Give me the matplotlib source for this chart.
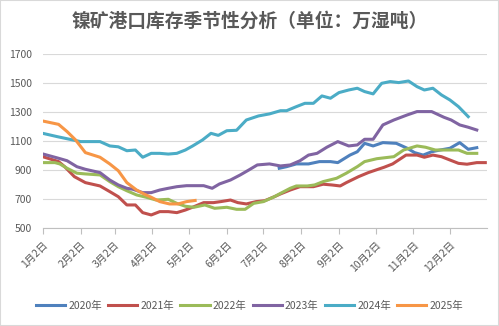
import matplotlib.pyplot as plt
import pandas as pd
from matplotlib.patches import Rectangle

plt.rcParams['font.family'] = ['Noto Sans CJK SC', 'DejaVu Sans']

# day of year (Jan 1 = 0) and stock, 10k wet tonnes
d2020 = [195, 201, 209, 219, 228, 237, 243, 253, 259, 265, 272, 280, 291, 300, 306, 313, 320, 327, 335, 343, 350, 357]
v2020 = [914, 925, 944, 944, 960, 960, 953, 1005, 1028, 1086, 1068, 1091, 1086, 1052, 1022, 1005, 1028, 1040, 1052, 1091, 1045, 1056]

d2021 = [1, 14, 19, 27, 36, 48, 56, 63, 70, 77, 83, 90, 97, 104, 111, 118, 125, 133, 141, 147, 155, 161, 168, 176, 183,
         191, 196, 204, 212, 223, 231, 238, 245, 250, 260, 268, 276, 281, 288, 299, 308, 314, 321, 328, 335, 342, 349, 357, 364]
v2021 = [994, 960, 925, 856, 815, 792, 753, 718, 661, 661, 608, 592, 615, 615, 608, 626, 649, 677, 677, 684, 695, 677, 668, 684, 690,
         718, 737, 764, 787, 787, 804, 799, 792, 815, 856, 884, 907, 921, 944, 1005, 1005, 990, 1005, 994, 971, 948, 942, 953, 953]

d2022 = [1, 11, 15, 21, 29, 36, 48, 56, 63, 70, 78, 86, 94, 104, 111, 118, 125, 134, 142, 152, 160, 167, 174, 182, 191,
         196, 204, 209, 218, 224, 231, 242, 250, 259, 265, 275, 282, 289, 297, 308, 315, 323, 335, 342, 349, 357]
v2022 = [953, 953, 944, 914, 880, 875, 868, 822, 787, 759, 730, 714, 695, 700, 672, 652, 645, 661, 638, 645, 631, 631, 672, 684, 718,
         741, 776, 792, 792, 799, 822, 845, 880, 925, 960, 980, 987, 994, 1040, 1068, 1059, 1040, 1040, 1040, 1017, 1017]

d2023 = [1, 14, 21, 29, 36, 48, 56, 63, 70, 75, 83, 90, 97, 104, 111, 119, 127, 133, 140, 146, 155, 163, 170, 177, 187,
         196, 204, 212, 219, 226, 234, 243, 252, 259, 265, 272, 280, 289, 300, 308, 320, 330, 336, 343, 350, 357]
v2023 = [1013, 983, 966, 925, 907, 884, 833, 799, 776, 769, 746, 746, 764, 776, 787, 794, 794, 794, 776, 806, 833, 868, 902, 937, 944,
         930, 937, 966, 1005, 1017, 1059, 1098, 1068, 1075, 1114, 1114, 1213, 1247, 1282, 1305, 1305, 1266, 1247, 1213, 1197, 1178]

d2024 = [1, 13, 32, 48, 56, 63, 70, 77, 83, 90, 97, 104, 111, 118, 124, 132, 139, 145, 152, 160, 168, 178, 187, 196, 201,
         209, 216, 223, 230, 237, 244, 252, 259, 265, 272, 279, 286, 293, 301, 308, 314, 321, 328, 335, 342, 350]
v2024 = [1155, 1132, 1098, 1098, 1068, 1062, 1035, 1040, 990, 1017, 1017, 1012, 1017, 1040, 1068, 1109, 1155, 1141, 1173, 1176, 1247, 1275, 1289, 1311, 1311,
         1339, 1362, 1362, 1413, 1397, 1436, 1454, 1466, 1443, 1427, 1500, 1512, 1505, 1516, 1477, 1454, 1466, 1420, 1385, 1339, 1270]

d2025 = [1, 14, 21, 28, 36, 48, 56, 63, 70, 78, 84, 90, 97, 105, 112, 119, 126]
v2025 = [1240, 1217, 1167, 1109, 1022, 990, 944, 897, 815, 764, 737, 714, 684, 668, 668, 684, 692]

years = ['2020年', '2021年', '2022年', '2023年', '2024年', '2025年']
colors = ['#4F81BD', '#C0504D', '#9BBB59', '#8064A2', '#4BACC6', '#F79646']
series = [(d2020, v2020), (d2021, v2021), (d2022, v2022), (d2023, v2023), (d2024, v2024), (d2025, v2025)]

tick_months = list(range(1, 13))
tick_pos = [pd.Timestamp(2021, m, 2).dayofyear - 1 for m in tick_months]
tick_labels = [f'{m}月2日' for m in tick_months]

fig = plt.figure(figsize=(4.99, 3.26), dpi=100)
ax = fig.add_axes([0.0856, 0.2997, 0.8894, 0.5337])

for (d, v), name, c in zip(series, years, colors):
    ax.plot(d, v, color=c, lw=2.2, label=name, solid_joinstyle='round')

ax.set_xlim(1, 365)
ax.set_ylim(500, 1700)
ax.set_yticks(range(500, 1701, 200))
ax.set_xticks(tick_pos)
ax.set_xticklabels(tick_labels, rotation=45, ha='right', va='top', rotation_mode='anchor')
ax.grid(axis='y', color='#D9D9D9', lw=0.8)
ax.set_axisbelow(True)
for s in ['top', 'right', 'left']:
    ax.spines[s].set_visible(False)
ax.spines['bottom'].set_color('#BFBFBF')
ax.tick_params(axis='y', length=0, pad=8, labelsize=7.5, labelcolor='#595959')
ax.tick_params(axis='x', length=4, color='#BFBFBF', pad=4, labelsize=7.5, labelcolor='#595959')

fig.text(0.5, 0.935, '镍矿港口库存季节性分析（单位：万湿吨）', ha='center', va='center',
         fontsize=13.5, fontweight='bold', color='#595959')

fig.legend(loc='center', bbox_to_anchor=(0.5, 0.062), ncol=6, frameon=False, fontsize=7.5,
           handlelength=2.8, handletextpad=0.3, columnspacing=0.6, labelcolor='#595959')

fig.patches.append(Rectangle((0, 0), 1, 1, transform=fig.transFigure, fill=False,
                             edgecolor='#D9D9D9', lw=1.5))

fig.savefig('out.png', dpi=100, facecolor='white')
